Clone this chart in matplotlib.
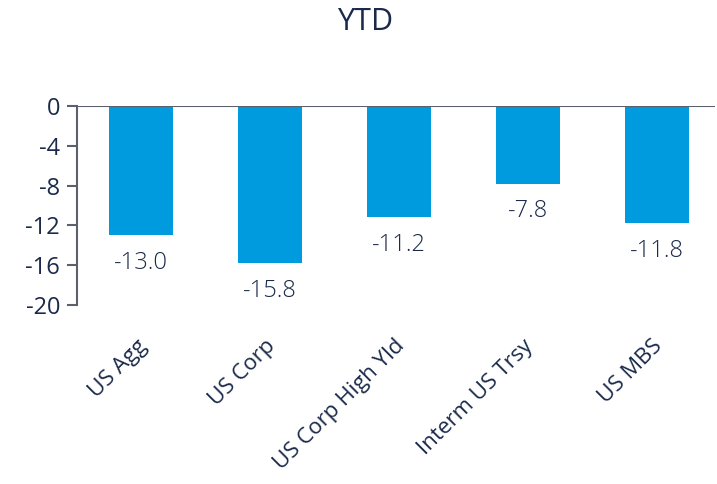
import matplotlib
matplotlib.use("Agg")
import matplotlib.pyplot as plt
import matplotlib.transforms as mtransforms
import numpy as np

categories = ["US Agg", "US Corp", "US Corp High Yld", "Interm US Trsy", "US MBS"]
ytd = [-13.0, -15.8, -11.2, -7.8, -11.8]
yticks = [0, -4, -8, -12, -16, -20]

NAVY = "#1b2a4a"
BLUE = "#009ade"
GREY = "#5c5f6e"

plt.rcParams["font.family"] = ["Open Sans", "DejaVu Sans"]

fig = plt.figure(figsize=(7.17, 4.84), dpi=100)
ax = fig.add_axes([0.107, 0.370, 0.890, 0.411])

x = np.arange(len(categories))
ax.bar(x, ytd, width=0.5, color=BLUE, zorder=2)
ax.axhline(0, color=GREY, lw=1.5, zorder=3)

for xi, v in zip(x, ytd):
    ax.text(xi, v - 1.6, f"{v:.1f}", ha="center", va="top", fontsize=17,
            color=NAVY, fontweight="light")

ax.set_xlim(-0.5, 4.45)
ax.set_ylim(-20, 0)
ax.set_yticks(yticks)
ax.set_yticklabels([str(t) for t in yticks], fontsize=17, color=NAVY)
ax.set_xticks(x)
ax.set_xticklabels(categories, rotation=45, ha="right", rotation_mode="anchor",
                   fontsize=16, color=NAVY)
ax.tick_params(axis="x", length=0, pad=22)
ax.tick_params(axis="y", length=7, width=1.5, color=GREY, pad=5)

shift = mtransforms.ScaledTranslation(-0.05, 0, fig.dpi_scale_trans)
for lbl in ax.get_xticklabels():
    lbl.set_transform(lbl.get_transform() + shift)

for s in ["top", "right", "bottom"]:
    ax.spines[s].set_visible(False)
ax.spines["left"].set_color(GREY)
ax.spines["left"].set_linewidth(1.5)

fig.text(0.509, 0.955, "YTD", ha="center", va="center", fontsize=22, color=NAVY)

fig.savefig("out.png", dpi=100)
